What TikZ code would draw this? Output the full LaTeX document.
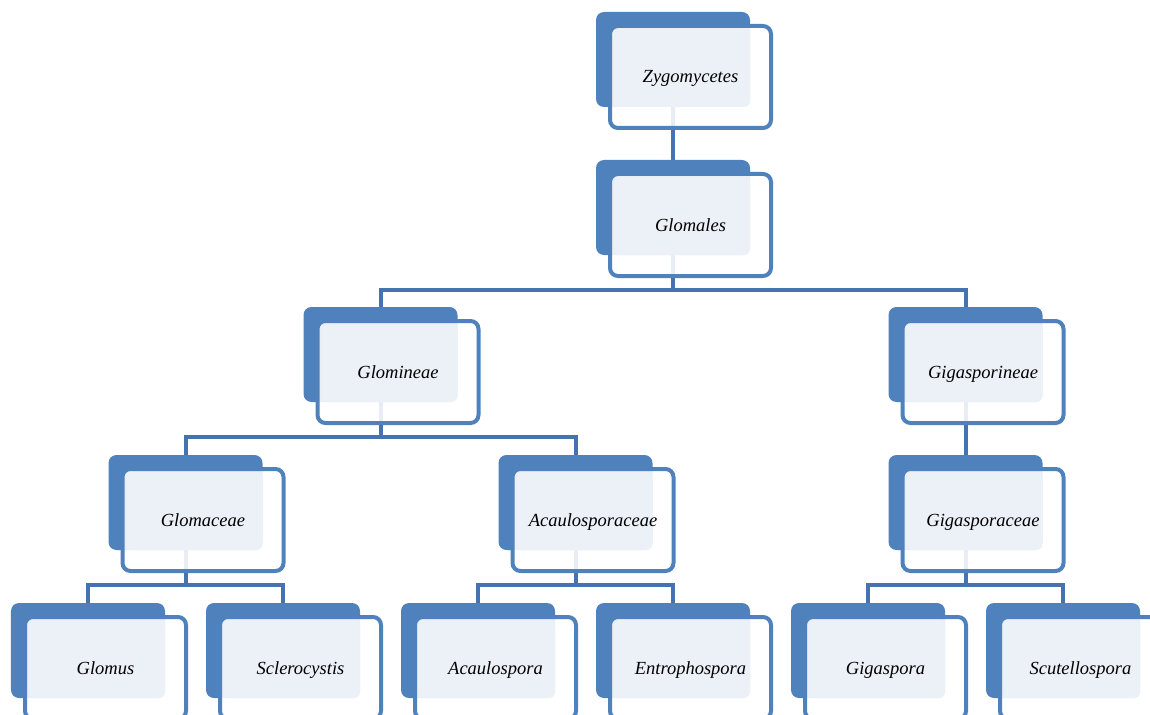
\documentclass[tikz,border=0pt]{standalone}
\usepackage{fontspec}
\setmainfont{Liberation Serif}
\usetikzlibrary{backgrounds}
\definecolor{boxblue}{HTML}{4F81BD}
\definecolor{linkblue}{HTML}{4673AF}
\definecolor{palefill}{HTML}{ECF0F7}
\tikzset{
  backbox/.style={rectangle, fill=boxblue, draw=none, rounded corners=8bp,
    minimum width=154bp, minimum height=95bp, inner sep=0pt},
  frontbox/.style={draw=boxblue, line width=4bp, fill=white, fill opacity=0.88,
    rounded corners=8bp},
  palebox/.style={fill=palefill, rounded corners=6bp},
  taxlabel/.style={font=\fontsize{18.5bp}{21bp}\selectfont\itshape, text=black, inner sep=0pt},
  link/.style={draw=linkblue, line width=4bp}
}
\newcommand\taxon[4]{%
  \node[backbox] (#1) at (#2,#3+47.5) {};
  \path[frontbox] (#2-63,#3+14) rectangle (#2+98,#3+116);
  \path[palebox] (#2-59,#3+17) rectangle (#2+77,#3+95);
  \node[taxlabel, anchor=base] (#1-t) at (#2+17.5,#3+71) {#4};
}
\begin{document}
\begin{tikzpicture}[x=1bp,y=-1bp]
\useasboundingbox (0,0) rectangle (1150,715);
\clip (0,0) rectangle (1150,715);
\taxon{zyg}{673}{12}{Zygomycetes}
\taxon{glomales}{673}{160}{Glomales}
\taxon{glomineae}{380.5}{307}{Glomineae}
\taxon{gigineae}{965.5}{307}{Gigasporineae}
\taxon{glomaceae}{185.5}{455}{Glomaceae}
\taxon{acaulaceae}{575.5}{455}{Acaulosporaceae}
\taxon{gigaceae}{965.5}{455}{Gigasporaceae}
\taxon{glomus}{88}{603}{Glomus}
\taxon{sclero}{283}{603}{Sclerocystis}
\taxon{acaulo}{478}{603}{Acaulospora}
\taxon{entro}{673}{603}{Entrophospora}
\taxon{giga}{868}{603}{Gigaspora}
\taxon{scutello}{1063}{603}{Scutellospora}
\begin{scope}[on background layer]
\draw[link] (zyg.south) -- (glomales.north);
\draw[link] (glomales.south) -- ++(0,35) -| (glomineae.north);
\draw[link] (glomales.south) -- ++(0,35) -| (gigineae.north);
\draw[link] (glomineae.south) -- ++(0,35) -| (glomaceae.north);
\draw[link] (glomineae.south) -- ++(0,35) -| (acaulaceae.north);
\draw[link] (gigineae.south) -- (gigaceae.north);
\draw[link] (glomaceae.south) -- ++(0,35) -| (glomus.north);
\draw[link] (glomaceae.south) -- ++(0,35) -| (sclero.north);
\draw[link] (acaulaceae.south) -- ++(0,35) -| (acaulo.north);
\draw[link] (acaulaceae.south) -- ++(0,35) -| (entro.north);
\draw[link] (gigaceae.south) -- ++(0,35) -| (giga.north);
\draw[link] (gigaceae.south) -- ++(0,35) -| (scutello.north);
\end{scope}
\end{tikzpicture}
\end{document}
